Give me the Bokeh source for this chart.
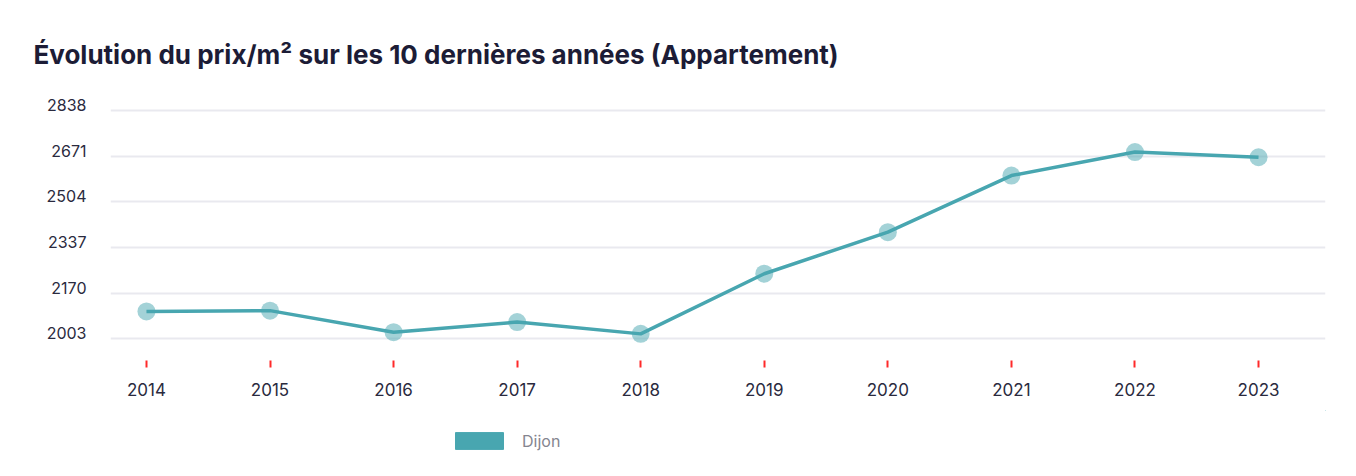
from bokeh.plotting import figure
from bokeh.layouts import column
from bokeh.models import Range1d, FixedTicker, Legend, LegendItem, ColumnDataSource, LinearAxis
from bokeh.embed import file_html
from bokeh.resources import INLINE

years = [2014, 2015, 2016, 2017, 2018, 2019, 2020, 2021, 2022, 2023]
prices = [2103, 2106, 2027, 2064, 2021, 2241, 2393, 2600, 2686, 2667]
y_ticks = [2003, 2170, 2337, 2504, 2671, 2838]
series_name = "Dijon"
title_text = "Évolution du prix/m² sur les 10 dernières années (Appartement)"

TEAL = "#48a6b0"
src = ColumnDataSource(dict(x=years, y=prices))

Y0, Y1 = 1923.6, 2874.6
p = figure(width=1340, height=410, output_backend="svg", toolbar_location=None,
           x_range=Range1d(2013.709, 2023.542), y_range=Range1d(Y0, Y1),
           y_axis_location=None,
           min_border_left=110, min_border_right=15, min_border_top=100, min_border_bottom=50)
p.outline_line_color = None
p.background_fill_color = "white"

p.title.text = title_text
p.title.text_font = "Inter"
p.title.text_font_size = "26px"
p.title.text_font_style = "bold"
p.title.text_color = "#1c1c36"
p.title.offset = -77
p.title.standoff = 62

# grid
p.xgrid.grid_line_color = None
p.ygrid.ticker = FixedTicker(ticks=y_ticks)
p.ygrid.grid_line_color = "#e9e9ef"
p.ygrid.grid_line_width = 2

# y axis labels sit slightly above their grid lines: use a shifted label range
shift = 20
p.extra_y_ranges = {"lbl": Range1d(Y0 - shift, Y1 - shift)}
yax = LinearAxis(y_range_name="lbl", ticker=FixedTicker(ticks=y_ticks))
yax.axis_line_color = None
yax.major_tick_line_color = None
yax.minor_tick_line_color = None
yax.major_label_standoff = 18
yax.major_label_text_font = "Inter"
yax.major_label_text_font_size = "16px"
yax.major_label_text_color = "#2a2a3e"
p.add_layout(yax, "left")

# x axis
p.xaxis.ticker = FixedTicker(ticks=years)
p.xaxis.axis_line_color = None
p.xaxis.major_tick_line_color = "#ff2a2a"
p.xaxis.major_tick_line_width = 2
p.xaxis.major_tick_out = 7
p.xaxis.major_tick_in = 0
p.xaxis.minor_tick_line_color = None
p.xaxis.major_label_standoff = 15
p.xaxis.major_label_text_font = "Inter"
p.xaxis.major_label_text_font_size = "17px"
p.xaxis.major_label_text_color = "#2a2a3e"

p.line("x", "y", source=src, line_color=TEAL, line_width=3.5)
p.scatter("x", "y", source=src, size=18, fill_color=TEAL, fill_alpha=0.5, line_color=None)

# legend strip below the chart (swatch renderer lies outside the visible range)
p2 = figure(width=1340, height=58, output_backend="svg", toolbar_location=None,
            x_range=Range1d(0, 1), y_range=Range1d(0, 1),
            x_axis_location=None, y_axis_location=None,
            min_border=0)
p2.outline_line_color = None
p2.xgrid.grid_line_color = None
p2.ygrid.grid_line_color = None
legend_r = p2.vbar(x=[5], bottom=[5], top=[6], width=0.5, fill_color=TEAL, line_color=TEAL)
legend = Legend(items=[LegendItem(label=series_name, renderers=[legend_r])],
                location=(339, 17), orientation="horizontal",
                glyph_width=60, glyph_height=21, label_standoff=13,
                label_text_font="Inter", label_text_font_size="16px",
                label_text_color="#85858f", border_line_color=None,
                background_fill_alpha=0)
p2.add_layout(legend, "center")

open("out.html", "w").write(file_html(column(p, p2, spacing=0), INLINE))
